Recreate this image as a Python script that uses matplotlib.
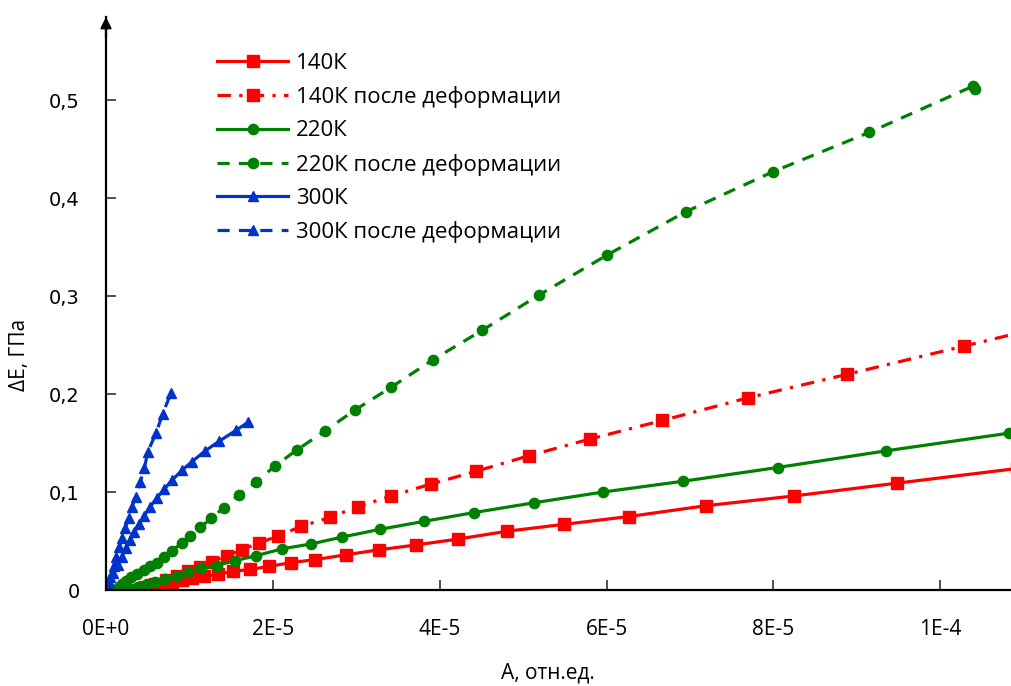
import numpy as np
import matplotlib
matplotlib.use("Agg")
import matplotlib.pyplot as plt
from matplotlib.ticker import FixedLocator, FuncFormatter

# A in units of 1e-6, dE in GPa
x140 = [3.4, 4.4, 5.5, 6.7, 7.9, 9.1, 10.3, 11.8, 13.4, 15.2, 17.3, 19.5, 22.2, 25.1,
        28.8, 32.7, 37.2, 42.2, 48.1, 54.9, 62.7, 71.9, 82.5, 94.8, 109.2]
y140 = [0.000, 0.002, 0.004, 0.006, 0.008, 0.010, 0.012, 0.014, 0.016, 0.019, 0.021, 0.024,
        0.028, 0.031, 0.036, 0.041, 0.046, 0.052, 0.060, 0.067, 0.075, 0.086, 0.096, 0.109, 0.124]

x140d = [3.5, 4.7, 5.9, 7.2, 8.5, 9.8, 11.3, 12.7, 14.5, 16.3, 18.3, 20.6, 23.4, 26.8,
         30.2, 34.2, 38.9, 44.3, 50.7, 58.0, 66.7, 76.9, 88.8, 102.9, 119.0]
y140d = [0.000, 0.003, 0.006, 0.010, 0.014, 0.019, 0.023, 0.029, 0.035, 0.041, 0.048, 0.055,
         0.065, 0.074, 0.085, 0.096, 0.108, 0.121, 0.137, 0.154, 0.173, 0.196, 0.220, 0.249, 0.282]

x220 = [1.0, 2.0, 2.9, 3.8, 4.9, 5.9, 7.1, 8.5, 9.8, 11.4, 13.3, 15.5, 18.0, 21.1, 24.6,
        28.3, 32.9, 38.1, 44.1, 51.3, 59.6, 69.2, 80.5, 93.5, 108.2]
y220 = [0.000, 0.000, 0.001, 0.003, 0.006, 0.008, 0.011, 0.014, 0.018, 0.022, 0.025, 0.030,
        0.035, 0.042, 0.047, 0.054, 0.062, 0.070, 0.079, 0.089, 0.100, 0.111, 0.125, 0.142, 0.160]

x220d = [1.2, 1.5, 1.9, 2.4, 3.0, 3.7, 4.5, 5.3, 6.1, 7.0, 7.9, 9.1, 10.1, 11.3, 12.6, 14.1,
         15.9, 18.0, 20.3, 22.9, 26.2, 29.9, 34.2, 39.2, 45.1, 51.9, 60.1, 69.5, 80.0, 91.5,
         103.9, 104.2]
y220d = [0.000, 0.003, 0.006, 0.009, 0.013, 0.016, 0.020, 0.024, 0.028, 0.034, 0.040, 0.048,
         0.055, 0.064, 0.073, 0.084, 0.097, 0.110, 0.127, 0.143, 0.162, 0.184, 0.207, 0.235,
         0.265, 0.301, 0.342, 0.386, 0.427, 0.467, 0.514, 0.511]

x300 = [0.0, 0.4, 0.8, 1.4, 1.9, 2.4, 2.9, 3.4, 4.0, 4.6, 5.3, 6.1, 7.0, 7.9, 9.1, 10.3,
        11.9, 13.6, 15.6, 17.0]
y300 = [0.000, 0.008, 0.017, 0.026, 0.034, 0.043, 0.051, 0.059, 0.067, 0.076, 0.085, 0.094,
        0.103, 0.112, 0.122, 0.131, 0.142, 0.152, 0.163, 0.171]

x300d = [0.0, 0.1, 0.5, 0.9, 1.2, 1.6, 1.9, 2.3, 2.7, 3.1, 3.6, 4.1, 4.6, 5.0, 6.0, 6.8, 7.8]
y300d = [0.000, 0.003, 0.013, 0.024, 0.034, 0.044, 0.053, 0.063, 0.073, 0.085, 0.095, 0.110,
         0.124, 0.141, 0.160, 0.180, 0.201]

labels = ["140К", "140К после деформации", "220К", "220К после деформации",
          "300К", "300К после деформации"]
xticks = [0, 2e-5, 4e-5, 6e-5, 8e-5, 1e-4]
xticklabels = ["0E+0", "2E-5", "4E-5", "6E-5", "8E-5", "1E-4"]
yticks = [0, 0.1, 0.2, 0.3, 0.4, 0.5]

RED, GREEN, BLUE = "#ff0000", "#008000", "#0033cc"
FONT = ["Open Sans", "DejaVu Sans"]

W, H = 1012, 686
fig = plt.figure(figsize=(W / 100, H / 100), dpi=100)
ax = fig.add_axes([106 / W, 96 / H, 906 / W, 573 / H])

lw = 2.3
dashdot = (0, (4.2, 2.6, 1.0, 2.6))
dashed = (0, (3.8, 2.9))
series = [
    (x140, y140, RED, "-", "s", 8.7),
    (x140d, y140d, RED, dashdot, "s", 8.7),
    (x220, y220, GREEN, "-", "o", 7.4),
    (x220d, y220d, GREEN, dashed, "o", 7.4),
    (x300, y300, BLUE, "-", "^", 7.7),
    (x300d, y300d, BLUE, dashed, "^", 7.7),
]
for (xs, ys, c, ls, m, ms), lab in zip(series, labels):
    ax.plot(np.array(xs) * 1e-6, ys, color=c, ls=ls, lw=lw, marker=m, ms=ms,
            mec=c, mfc=c, label=lab)

ax.set_xlim(0, 108.6e-6)
ax.set_ylim(0, 573 / 980)
for s in ("top", "right"):
    ax.spines[s].set_visible(False)
for s in ("left", "bottom"):
    ax.spines[s].set_linewidth(1.6)
    ax.spines[s].set_color("black")
ax.annotate("", xy=(0, 1.005), xytext=(0, 0.96), xycoords="axes fraction",
            arrowprops=dict(arrowstyle="-|>", color="black", lw=1.6, mutation_scale=16))

ax.xaxis.set_major_locator(FixedLocator(xticks))
ax.set_xticklabels(xticklabels, family=FONT, fontsize=15)
ax.yaxis.set_major_locator(FixedLocator(yticks))
ax.yaxis.set_major_formatter(FuncFormatter(lambda v, p: "0" if v == 0 else f"{v:.1f}".replace(".", ",")))
for t in ax.get_yticklabels():
    t.set_fontsize(14)
    t.set_family("DejaVu Sans")
ax.tick_params(axis="both", direction="in", length=7, width=1.2, color="#333333")
ax.tick_params(axis="x", pad=21)
ax.tick_params(axis="y", pad=19)

fig.text(548 / W, 1 - 673 / H, "А, отн.ед.", ha="center", va="center",
         family=FONT, fontsize=15)
fig.text(20 / W, 1 - 355 / H, "ΔЕ, ГПа", ha="center", va="center", rotation=90,
         family=FONT, fontsize=15)

leg = ax.legend(loc="upper left", bbox_to_anchor=(111 / 906, 1 - 36 / 573), frameon=False,
                prop={"family": FONT, "size": 16}, handlelength=3.2, handletextpad=0.36,
                labelspacing=0.55, borderaxespad=0, borderpad=0)

fig.savefig("out.png", dpi=100, facecolor="white")
